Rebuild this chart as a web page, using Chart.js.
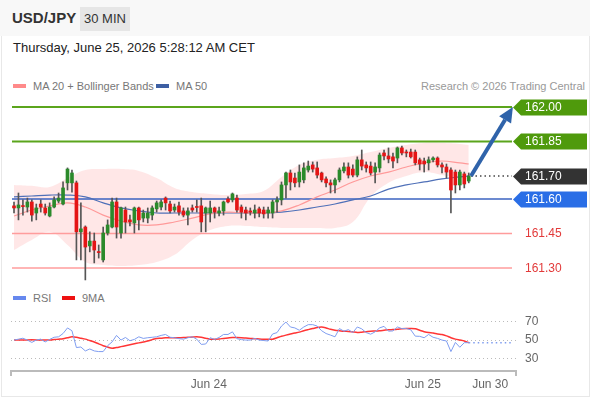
<!DOCTYPE html>
<html>
<head>
<meta charset="utf-8">
<script src="https://cdn.jsdelivr.net/npm/chart.js@4.4.1/dist/chart.umd.min.js"></script>
<style>
  body { margin:0; width:590px; height:400px; overflow:hidden; background:#fff; position:relative;
         font-family:"Liberation Sans", Arial, sans-serif; }
  .frame { position:absolute; left:1px; top:0; width:587px; height:396px; border:1px solid #e8e8e8; border-top:none; }
  .head { position:absolute; left:0; top:0; width:590px; height:36px; background:#f8f8f8; }
  .pair { position:absolute; left:12px; top:9px; font-size:15px; font-weight:bold; color:#333; }
  .tf { position:absolute; left:80px; top:7px; width:50px; height:24px; line-height:24px; background:#e6e6e6;
        text-align:center; font-size:13px; color:#333; }
  .date { position:absolute; left:13px; top:40px; font-size:13px; color:#222; }
  .leg { position:absolute; font-size:11px; color:#777; white-space:nowrap; }
  .sw { display:inline-block; width:13px; height:4px; vertical-align:middle; margin-right:7px; position:relative; top:-1px; }
  canvas { position:absolute; left:0; }
</style>
</head>
<body>
<div class="frame"></div>
<div class="head"></div>
<div class="pair">USD/JPY</div>
<div class="tf">30 MIN</div>
<div class="date">Thursday, June 25, 2026 5:28:12 AM CET</div>
<div class="leg" style="left:13px;top:80px"><span class="sw" style="background:#ff8a8a"></span>MA 20 + Bollinger Bands</div>
<div class="leg" style="left:156px;top:80px"><span class="sw" style="background:#3d5fa3"></span>MA 50</div>
<div class="leg" style="right:5px;top:80px;color:#999">Research © 2026 Trading Central</div>
<div class="leg" style="left:13px;top:292px"><span class="sw" style="background:#6688ee"></span>RSI</div>
<div class="leg" style="left:62px;top:292px"><span class="sw" style="background:#ee1111"></span>9MA</div>
<canvas id="price" width="590" height="190" style="top:95px"></canvas>
<canvas id="rsi" width="590" height="111" style="top:289px"></canvas>
<script>
// 30 min candles, oldest first
const opens  = [161.570,161.561,161.570,161.565,161.587,161.539,161.578,161.561,161.526,161.565,
                161.591,161.578,161.670,161.670,161.670,161.457,161.478,161.396,161.417,161.370,
                161.335,161.452,161.478,161.587,161.452,161.552,161.509,161.496,161.561,161.517,
                161.517,161.530,161.557,161.565,161.604,161.578,161.552,161.570,161.548,161.530,
                161.561,161.565,161.570,161.539,161.539,161.561,161.539,161.548,161.600,161.596,
                161.604,161.565,161.552,161.548,161.539,161.557,161.552,161.539,161.539,161.587,
                161.596,161.661,161.713,161.691,161.674,161.683,161.726,161.748,161.735,161.713,
                161.687,161.670,161.661,161.683,161.722,161.739,161.730,161.704,161.770,161.748,
                161.743,161.717,161.735,161.800,161.787,161.783,161.778,161.822,161.804,161.804,
                161.804,161.770,161.765,161.757,161.770,161.778,161.748,161.739,161.726,161.717,
                161.661,161.709,161.678];
const highs  = [161.587,161.626,161.596,161.604,161.596,161.578,161.596,161.578,161.583,161.609,
                161.626,161.674,161.735,161.726,161.678,161.583,161.483,161.457,161.452,161.400,
                161.478,161.509,161.604,161.604,161.565,161.565,161.530,161.565,161.565,161.552,
                161.561,161.570,161.591,161.596,161.609,161.591,161.578,161.587,161.561,161.561,
                161.574,161.596,161.604,161.565,161.591,161.565,161.565,161.591,161.609,161.626,
                161.617,161.574,161.565,161.561,161.574,161.565,161.565,161.565,161.596,161.609,
                161.674,161.717,161.726,161.713,161.748,161.757,161.765,161.761,161.761,161.717,
                161.696,161.683,161.691,161.735,161.757,161.757,161.748,161.783,161.813,161.761,
                161.761,161.757,161.800,161.813,161.822,161.800,161.826,161.830,161.813,161.817,
                161.813,161.778,161.778,161.783,161.783,161.783,161.757,161.752,161.735,161.726,
                161.726,161.717,161.713];
const lows   = [161.539,161.509,161.530,161.543,161.504,161.509,161.543,161.530,161.522,161.561,
                161.583,161.574,161.639,161.630,161.335,161.335,161.248,161.370,161.322,161.343,
                161.326,161.443,161.474,161.430,161.430,161.452,161.483,161.452,161.465,161.500,
                161.496,161.509,161.543,161.552,161.552,161.539,161.543,161.530,161.522,161.487,
                161.543,161.543,161.457,161.457,161.500,161.517,161.526,161.530,161.583,161.587,
                161.543,161.517,161.509,161.530,161.517,161.522,161.517,161.517,161.517,161.543,
                161.574,161.604,161.639,161.652,161.652,161.670,161.717,161.717,161.691,161.674,
                161.652,161.626,161.626,161.674,161.713,161.691,161.696,161.696,161.726,161.717,
                161.704,161.670,161.717,161.770,161.757,161.735,161.757,161.791,161.783,161.778,
                161.748,161.726,161.717,161.726,161.761,161.739,161.713,161.691,161.539,161.626,
                161.639,161.648,161.670];
const closes = [161.561,161.574,161.567,161.587,161.530,161.561,161.565,161.539,161.565,161.596,
                161.604,161.648,161.730,161.713,161.457,161.470,161.391,161.417,161.378,161.367,
                161.452,161.487,161.587,161.478,161.561,161.500,161.500,161.561,161.509,161.539,
                161.539,161.561,161.583,161.587,161.583,161.548,161.565,161.543,161.530,161.548,
                161.552,161.563,161.500,161.561,161.561,161.543,161.548,161.587,161.587,161.622,
                161.552,161.543,161.539,161.543,161.552,161.539,161.535,161.552,161.587,161.596,
                161.661,161.713,161.674,161.670,161.717,161.735,161.743,161.730,161.704,161.683,
                161.670,161.661,161.683,161.726,161.739,161.704,161.704,161.770,161.743,161.735,
                161.713,161.739,161.791,161.787,161.774,161.765,161.822,161.800,161.800,161.783,
                161.757,161.752,161.752,161.770,161.778,161.748,161.739,161.717,161.639,161.661,
                161.717,161.665,161.700];

// indicators read at every 4th candle
const bandIdx = [0,4,8,12,16,20,24,28,32,36,40,44,48,52,56,60,64,68,72,76,80,84,88,92,96,100,102];
const bbUpper = [161.661,161.657,161.652,161.691,161.726,161.730,161.730,161.722,161.691,161.648,161.630,161.622,161.617,
                 161.622,161.635,161.696,161.748,161.770,161.778,161.787,161.804,161.822,161.835,161.843,161.843,161.839,161.835];
const bbLower = [161.378,161.422,161.457,161.400,161.326,161.313,161.309,161.313,161.326,161.357,161.422,161.465,161.483,
                 161.483,161.478,161.474,161.474,161.474,161.474,161.500,161.609,161.670,161.700,161.717,161.704,161.691,161.687];
const ma20    = [161.526,161.552,161.570,161.583,161.565,161.530,161.504,161.487,161.487,161.500,161.517,161.535,161.543,
                 161.539,161.539,161.548,161.574,161.609,161.639,161.674,161.700,161.717,161.739,161.757,161.765,161.757,161.752];
const ma50    = [161.609,161.613,161.617,161.617,161.609,161.583,161.561,161.548,161.539,161.539,161.539,161.539,161.539,
                 161.539,161.539,161.543,161.552,161.565,161.578,161.596,161.613,161.643,161.661,161.674,161.687,161.696,161.700];

// support / resistance levels
const resistances = [162.00, 161.85];
const pivotLevel = 161.60;
const supports = [161.45, 161.30];
const lastPrice = 161.70;
const arrowFrom = [102.5, 161.70];
const arrowTo = [111.9, 162.00];

// RSI panel
const rsiVals = [50,51,52,50,47.5,50,51,48,50.7,53,53.5,57,63,60,42,42.6,38.4,40.5,38.4,37.7,
                 37.7,44,48,55,50,52.8,49.3,50.7,53.5,51.8,52.5,53,53.5,55,56,53,52.5,51.5,51,52.5,
                 53.5,51,45.4,45.8,52.5,50.7,52.8,56,56,58.8,51.5,50.5,50,50,51.8,50,49.5,49,56.5,58,
                 65,69.3,64,63,60.5,64,66.5,66.5,65,60,57,55.3,53.5,62.3,59.5,61.2,58,64,62,58,
                 56.3,58.8,63,64.7,59.5,59.8,64,62.3,62.3,61,54.2,54,52.5,56,53,51.8,50,49,37.7,47.5,
                 42.3,47.2,47.2];
const rsiMa = [50,50,50,50.2,50.3,50.2,50,50,50,50.5,51,51.5,52.5,53.5,53,52,51,49.5,48,46,
               44,42.5,41.2,42,43,44,45,46,47,48,49,50.5,51.8,52,52.5,52.5,52.5,52.5,52.7,53,
               53.2,53.5,53,52,51,51,51.2,51.8,52.3,52.8,52.8,52.6,52.2,51.8,51.5,51.2,51,51,51,52.5,
               54,55.3,56.5,57.5,58.5,60,61.2,62.3,63.5,64,63,61.5,60.5,60,59.5,59.2,58.7,58.2,58.5,59,
               59.5,59.7,60,60.5,61,61.2,61.5,62,62.3,62.3,62,60.5,59,58,57.5,56.5,56,54.5,52.5,51,
               50,49,47.2];
const rsiLevels = [30, 50, 70];
const tickPos = [43.7, 91.7, 106.8];
const tickLabels = ['Jun 24', 'Jun 25', 'Jun 30'];

const upColor = '#2b8a2b', downColor = '#e41515';
const levelStyle = {
  '162.00': {line:'#5ba51c', box:'#4f9a0c', width:2},
  '161.85': {line:'#5ba51c', box:'#4f9a0c', width:2},
  '161.60': {line:'#3b63c0', box:'#2a6ee6', width:1.5},
  '161.45': {line:'#ff9c9c', text:'#e23a3a', width:1.5},
  '161.30': {line:'#ff9c9c', text:'#e23a3a', width:1.5}
};

const xMin = -0.45, xMax = 111.7;
const pts = (ys) => bandIdx.map((x, k) => ({x: x, y: ys[k]}));
const hline = (v, a, b) => [{x: a, y: v}, {x: b, y: v}];
const allLevels = resistances.concat([pivotLevel], supports);

const levelSets = allLevels.map(v => {
  const st = levelStyle[v.toFixed(2)];
  return {type:'line', data: hline(v, xMin, xMax), borderColor: st.line, borderWidth: st.width,
          pointRadius: 0, order: 3};
});

// right hand price labels
const levelLabels = {
  id: 'levelLabels',
  afterDraw(chart) {
    const ctx = chart.ctx, y = chart.scales.y, right = chart.chartArea.right;
    ctx.save();
    ctx.font = '12px "Liberation Sans", Arial, sans-serif';
    ctx.textBaseline = 'middle';
    const boxes = allLevels.map(v => [v, levelStyle[v.toFixed(2)].box, levelStyle[v.toFixed(2)].text]);
    boxes.push([lastPrice, '#333333', null]);
    boxes.forEach(([v, box, txt]) => {
      const py = Math.round(y.getPixelForValue(v)) + 0.5;
      if (box) {
        ctx.fillStyle = box;
        ctx.beginPath();
        ctx.moveTo(right + 1, py);
        ctx.lineTo(right + 9, py - 8);
        ctx.lineTo(587, py - 8);
        ctx.lineTo(587, py + 8);
        ctx.lineTo(right + 9, py + 8);
        ctx.closePath();
        ctx.fill();
        ctx.fillStyle = '#fff';
      } else {
        ctx.fillStyle = txt;
      }
      ctx.fillText(v.toFixed(2), right + 13, py + 0.5);
    });
    ctx.restore();
  }
};

// projection arrow
const arrow = {
  id: 'arrow',
  afterDatasetsDraw(chart) {
    const ctx = chart.ctx, sx = chart.scales.x, sy = chart.scales.y;
    const x0 = sx.getPixelForValue(arrowFrom[0]), y0 = sy.getPixelForValue(arrowFrom[1]);
    const x1 = sx.getPixelForValue(arrowTo[0]), y1 = sy.getPixelForValue(arrowTo[1]);
    const a = Math.atan2(y1 - y0, x1 - x0), len = 15, hw = 7;
    const bx = x1 - len * Math.cos(a), by = y1 - len * Math.sin(a);
    ctx.save();
    ctx.strokeStyle = ctx.fillStyle = '#2f63aa';
    ctx.lineWidth = 4;
    ctx.beginPath(); ctx.moveTo(x0, y0); ctx.lineTo(bx, by); ctx.stroke();
    ctx.beginPath();
    ctx.moveTo(x1, y1);
    ctx.lineTo(bx + hw * Math.sin(a), by - hw * Math.cos(a));
    ctx.lineTo(bx - hw * Math.sin(a), by + hw * Math.cos(a));
    ctx.closePath(); ctx.fill();
    ctx.restore();
  }
};

new Chart(document.getElementById('price'), {
  type: 'bar',
  data: {
    datasets: [
      {type:'bar', data: opens.map((o, i) => ({x: i, y: [o, closes[i]]})),
       backgroundColor: opens.map((o, i) => closes[i] >= o ? upColor : downColor),
       barThickness: 3, minBarLength: 1, grouped: false, order: 0},
      {type:'bar', data: highs.map((h, i) => ({x: i, y: [lows[i], h]})),
       backgroundColor: '#555', barThickness: 1, grouped: false, order: 1},
      {type:'line', data: pts(ma20), borderColor:'#ff9a9a', borderWidth:1.2, pointRadius:0, tension:0.4, order:2},
      {type:'line', data: pts(ma50), borderColor:'#4f70b8', borderWidth:1.2, pointRadius:0, tension:0.4, order:2},
      {type:'line', data: hline(lastPrice, arrowFrom[0], xMax), borderColor:'#444', borderWidth:1.5,
       borderDash:[1.5, 3], pointRadius:0, order:3},
      ...levelSets,
      {type:'line', data: pts(bbUpper), borderColor:'transparent', borderWidth:0, pointRadius:0, tension:0.4,
       fill:'+1', backgroundColor:'rgba(255,40,40,0.11)', order:4},
      {type:'line', data: pts(bbLower), borderColor:'transparent', borderWidth:0, pointRadius:0, tension:0.4,
       fill:false, order:4}
    ]
  },
  options: {
    responsive: false, animation: false,
    layout: {padding: {left: 12, right: 78, top: 0, bottom: 0}},
    plugins: {legend: {display: false}, tooltip: {enabled: false}},
    scales: {
      x: {type: 'linear', display: false, offset: false, min: xMin, max: xMax},
      y: {display: false, min: 161.226, max: 162.052}
    }
  },
  plugins: [levelLabels, arrow]
});

const rMin = -0.67, rMax = 112.6;
new Chart(document.getElementById('rsi'), {
  type: 'line',
  data: {
    datasets: [
      {data: rsiVals.map((v, i) => ({x: i, y: v})), borderColor:'#7f9df0', borderWidth:1, pointRadius:0},
      {data: rsiMa.map((v, i) => ({x: i, y: v})), borderColor:'#ff3535', borderWidth:1.5, pointRadius:0, tension:0.3},
      {data: hline(rsiVals[rsiVals.length - 1], rsiVals.length - 1, 111.9), borderColor:'#7f9df0',
       borderWidth:1.5, borderDash:[1.5, 3], pointRadius:0}
    ]
  },
  options: {
    responsive: false, animation: false,
    layout: {padding: {left: 11, right: 0, top: 0, bottom: 5}},
    plugins: {legend: {display: false}, tooltip: {enabled: false}},
    scales: {
      x: {
        type: 'linear', min: rMin, max: rMax,
        afterBuildTicks: s => { s.ticks = [rMin].concat(tickPos, [rMax]).map(v => ({value: v})); },
        afterFit: s => { s.height = 24; },
        grid: {drawOnChartArea: false, drawTicks: true, tickLength: 5, lineWidth: 2,
               color: c => (c.index === 0 || c.index === tickPos.length + 1) ? '#bbb' : 'transparent'},
        border: {display: true, color: '#bbb', width: 2},
        ticks: {autoSkip: false, maxRotation: 0, padding: 1, color: '#666',
                font: {size: 12, family: '"Liberation Sans", Arial, sans-serif'},
                callback: (v, i) => (i === 0 || i > tickPos.length) ? '' : tickLabels[i - 1]}
      },
      y: {
        position: 'right', min: 16.93, max: 87.3,
        afterBuildTicks: s => { s.ticks = rsiLevels.map(v => ({value: v})); },
        afterFit: s => { s.width = 74; },
        grid: {color: '#bbb', lineWidth: 1, drawTicks: false},
        border: {display: false, dash: [1, 3]},
        ticks: {padding: 9, color: '#666', font: {size: 12, family: '"Liberation Sans", Arial, sans-serif'}}
      }
    }
  }
});
</script>
</body>
</html>
